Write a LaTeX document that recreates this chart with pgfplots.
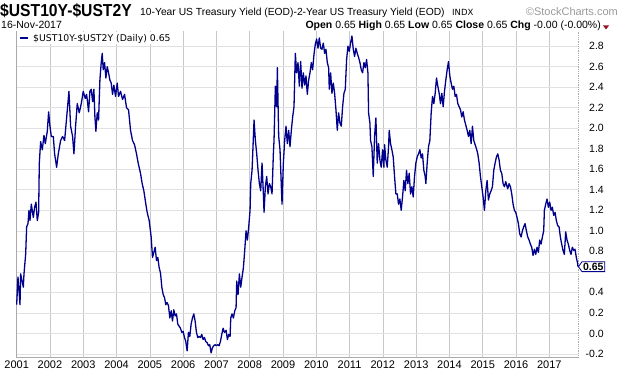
\documentclass[border=0pt]{standalone}
\usepackage{pgfplots}
\pgfplotsset{compat=1.18}
\usepackage{fontspec}
\usepackage{graphicx}
\setmainfont{Liberation Sans}
\newfontfamily\dejavu{DejaVu Sans}
\usetikzlibrary{shapes.symbols}
\definecolor{lineblue}{RGB}{0,0,140}
\definecolor{gridmaj}{RGB}{200,200,200}
\definecolor{gridmin}{RGB}{225,225,225}
\definecolor{axgray}{RGB}{170,170,170}
\definecolor{dred}{RGB}{150,20,40}
\begin{document}
\begin{tikzpicture}
\path[use as bounding box] (0,0) rectangle (620bp,376bp);
\begin{axis}[
  at={(16bp,18.5bp)}, anchor=south west,
  scale only axis, width=562bp, height=326bp,
  xmin=2000.98, xmax=2017.86, ymin=-0.235, ymax=2.943,
  xtick={2001,2002,...,2017}, minor x tick num=1,
  ytick={-0.2,0,0.2,0.4,0.6,0.8,1.0,1.2,1.4,1.6,1.8,2.0,2.2,2.4,2.6,2.8},
  yticklabels={-0.2,0.0,0.2,0.4,,0.8,1.0,1.2,1.4,1.6,1.8,2.0,2.2,2.4,2.6,2.8},
  ytick pos=right, yticklabel pos=right,
  xmajorgrids, xminorgrids, ymajorgrids,
  major x grid style={draw=gridmaj, line width=0.6bp},
  minor x grid style={draw=gridmin, line width=0.6bp},
  major y grid style={draw=gridmin, line width=0.6bp},
  tick style={draw=none},
  axis line style={draw=none},
  clip=false,
  /pgf/number format/assume math mode=true,
  xticklabel style={font=\fontsize{11bp}{12bp}\selectfont, /pgf/number format/1000 sep={}, anchor=north, inner sep=0pt, yshift=-3bp},
  yticklabel style={font=\fontsize{10.5bp}{12bp}\selectfont, anchor=east, inner sep=0pt, xshift=26bp},
]
\draw[axgray, line width=0.8bp] (rel axis cs:0,1) -- (rel axis cs:0,0) -- (rel axis cs:1,0);
\draw[axgray, line width=0.8bp, densely dotted] (rel axis cs:1,0) -- (rel axis cs:1,1);
\addplot[lineblue, line width=1.3bp, line join=round] table {
2001.00 0.28
2001.04 0.55
2001.10 0.28
2001.12 0.58
2001.20 0.45
2001.22 0.58
2001.27 0.77
2001.30 1.04
2001.34 1.07
2001.37 1.20
2001.40 1.10
2001.44 1.26
2001.50 1.13
2001.54 1.23
2001.58 1.28
2001.62 1.10
2001.66 1.18
2001.68 1.66
2001.72 1.87
2001.77 1.79
2001.82 1.93
2001.86 1.85
2001.92 1.97
2001.96 2.16
2002.00 2.02
2002.04 1.92
2002.10 1.92
2002.14 1.75
2002.20 1.62
2002.25 1.75
2002.32 1.88
2002.38 1.92
2002.44 1.88
2002.50 2.10
2002.57 2.36
2002.62 2.02
2002.68 1.92
2002.72 1.75
2002.77 2.02
2002.82 2.24
2002.88 2.15
2002.94 2.24
2003.00 2.36
2003.06 2.29
2003.10 2.33
2003.12 2.28
2003.16 2.16
2003.20 2.36
2003.24 2.38
2003.28 2.26
2003.32 2.38
2003.35 2.11
2003.38 1.97
2003.42 2.15
2003.46 2.08
2003.50 2.47
2003.54 2.64
2003.57 2.73
2003.60 2.57
2003.64 2.64
2003.68 2.49
2003.72 2.60
2003.76 2.54
2003.80 2.47
2003.84 2.44
2003.88 2.33
2003.92 2.42
2003.97 2.31
2004.02 2.44
2004.06 2.31
2004.12 2.36
2004.18 2.28
2004.24 2.33
2004.30 2.20
2004.36 2.18
2004.42 1.98
2004.48 1.88
2004.54 1.84
2004.60 1.75
2004.65 1.66
2004.72 1.56
2004.77 1.46
2004.82 1.39
2004.88 1.26
2004.92 1.18
2004.98 1.10
2005.04 0.94
2005.08 0.74
2005.12 0.79
2005.16 0.84
2005.20 0.71
2005.24 0.74
2005.28 0.64
2005.32 0.59
2005.36 0.45
2005.40 0.38
2005.44 0.35
2005.48 0.28
2005.52 0.30
2005.56 0.27
2005.60 0.15
2005.64 0.22
2005.68 0.12
2005.72 0.23
2005.76 0.17
2005.80 0.19
2005.84 0.09
2005.88 0.07
2005.92 0.05
2005.96 0.01
2006.00 0.02
2006.04 -0.04
2006.08 -0.08
2006.12 -0.17
2006.16 0.01
2006.20 -0.03
2006.24 0.09
2006.28 0.15
2006.32 0.19
2006.36 0.12
2006.40 0.01
2006.44 -0.04
2006.48 -0.03
2006.52 -0.04
2006.56 -0.01
2006.60 -0.06
2006.64 -0.04
2006.68 -0.08
2006.72 -0.09
2006.76 -0.12
2006.80 -0.11
2006.84 -0.19
2006.88 -0.14
2006.92 -0.12
2006.96 -0.11
2007.00 -0.12
2007.04 -0.11
2007.08 -0.12
2007.12 -0.08
2007.16 -0.01
2007.20 0.05
2007.24 0.01
2007.29 0.03
2007.33 -0.06
2007.37 -0.01
2007.41 -0.03
2007.43 0.15
2007.47 0.19
2007.51 0.15
2007.55 0.22
2007.59 0.25
2007.61 0.51
2007.65 0.38
2007.69 0.58
2007.73 0.45
2007.77 0.55
2007.81 0.64
2007.85 0.81
2007.89 1.00
2007.93 0.91
2007.97 1.04
2008.01 1.20
2008.03 1.46
2008.07 1.59
2008.09 1.75
2008.13 2.08
2008.17 1.88
2008.21 1.75
2008.25 1.59
2008.29 1.46
2008.33 1.39
2008.37 1.66
2008.41 1.36
2008.43 1.18
2008.47 1.43
2008.51 1.53
2008.55 1.36
2008.59 1.46
2008.63 1.43
2008.67 1.36
2008.71 1.75
2008.73 1.88
2008.77 2.41
2008.81 2.21
2008.83 2.59
2008.87 1.92
2008.91 1.79
2008.95 1.43
2008.97 1.26
2009.01 1.66
2009.05 1.88
2009.09 2.02
2009.13 1.85
2009.17 1.98
2009.21 1.82
2009.25 1.98
2009.29 2.11
2009.33 2.21
2009.37 2.73
2009.41 2.54
2009.45 2.64
2009.49 2.41
2009.53 2.65
2009.57 2.39
2009.61 2.54
2009.65 2.42
2009.69 2.51
2009.73 2.33
2009.77 2.47
2009.81 2.54
2009.85 2.64
2009.89 2.57
2009.93 2.72
2009.97 2.82
2010.01 2.87
2010.05 2.78
2010.09 2.88
2010.13 2.78
2010.17 2.77
2010.21 2.83
2010.25 2.73
2010.29 2.77
2010.33 2.64
2010.37 2.59
2010.39 2.38
2010.43 2.54
2010.47 2.34
2010.51 2.44
2010.55 2.34
2010.59 2.18
2010.63 1.98
2010.67 2.15
2010.71 2.05
2010.75 2.02
2010.79 2.21
2010.83 2.34
2010.87 2.38
2010.91 2.67
2010.95 2.80
2010.99 2.75
2011.03 2.83
2011.07 2.90
2011.11 2.77
2011.15 2.70
2011.19 2.78
2011.23 2.73
2011.27 2.69
2011.31 2.64
2011.35 2.57
2011.39 2.54
2011.43 2.64
2011.47 2.59
2011.51 2.67
2011.55 2.54
2011.57 2.15
2011.61 2.05
2011.63 1.88
2011.67 1.82
2011.71 1.53
2011.75 1.92
2011.79 2.10
2011.83 1.66
2011.87 1.85
2011.91 1.69
2011.95 1.62
2011.99 1.79
2012.03 1.62
2012.05 1.84
2012.09 1.69
2012.13 1.62
2012.17 1.82
2012.19 1.98
2012.23 1.85
2012.27 1.79
2012.31 1.72
2012.35 1.53
2012.39 1.36
2012.43 1.36
2012.47 1.26
2012.51 1.31
2012.55 1.20
2012.59 1.33
2012.63 1.49
2012.67 1.39
2012.71 1.59
2012.75 1.46
2012.79 1.56
2012.83 1.36
2012.87 1.43
2012.91 1.33
2012.95 1.53
2012.99 1.66
2013.03 1.72
2013.07 1.75
2013.11 1.79
2013.15 1.71
2013.19 1.75
2013.23 1.59
2013.27 1.53
2013.29 1.46
2013.33 1.66
2013.37 1.82
2013.41 1.88
2013.45 2.15
2013.49 2.31
2013.53 2.24
2013.57 2.34
2013.61 2.49
2013.65 2.41
2013.69 2.34
2013.73 2.24
2013.77 2.34
2013.81 2.21
2013.85 2.36
2013.89 2.47
2013.93 2.57
2013.97 2.65
2014.01 2.51
2014.05 2.44
2014.09 2.38
2014.13 2.41
2014.17 2.31
2014.21 2.33
2014.25 2.24
2014.29 2.21
2014.33 2.18
2014.37 2.11
2014.41 2.16
2014.45 2.08
2014.49 2.03
2014.53 1.98
2014.57 1.92
2014.61 1.98
2014.65 1.85
2014.69 2.02
2014.73 1.88
2014.77 1.84
2014.81 1.80
2014.85 1.75
2014.89 1.66
2014.93 1.53
2014.97 1.43
2015.01 1.33
2015.05 1.20
2015.09 1.39
2015.13 1.49
2015.17 1.30
2015.21 1.36
2015.25 1.39
2015.29 1.43
2015.33 1.59
2015.37 1.66
2015.41 1.72
2015.45 1.75
2015.49 1.69
2015.53 1.59
2015.57 1.56
2015.61 1.46
2015.65 1.43
2015.69 1.48
2015.73 1.43
2015.75 1.41
2015.79 1.46
2015.83 1.43
2015.87 1.36
2015.91 1.26
2015.95 1.20
2015.99 1.18
2016.03 1.13
2016.07 1.07
2016.11 0.97
2016.15 0.94
2016.19 1.00
2016.23 1.04
2016.27 1.07
2016.31 1.00
2016.35 0.94
2016.39 0.91
2016.43 0.87
2016.47 0.84
2016.51 0.76
2016.55 0.82
2016.59 0.77
2016.63 0.84
2016.67 0.79
2016.71 0.91
2016.75 0.87
2016.79 0.94
2016.83 1.00
2016.85 1.20
2016.89 1.26
2016.93 1.31
2016.97 1.23
2017.01 1.28
2017.05 1.20
2017.09 1.23
2017.13 1.15
2017.17 1.18
2017.21 1.10
2017.25 1.05
2017.29 1.04
2017.33 0.94
2017.37 0.87
2017.41 0.81
2017.45 0.77
2017.49 0.99
2017.53 0.91
2017.57 0.87
2017.61 0.81
2017.65 0.77
2017.69 0.84
2017.73 0.81
2017.77 0.82
2017.81 0.74
2017.85 0.68
2017.86 0.65
};
\node[signal, signal to=west, signal pointer angle=110, draw=lineblue, fill=white, line width=0.8bp, inner sep=1.2bp, font=\bfseries\fontsize{10.5bp}{12bp}\selectfont, anchor=west] at (axis cs:2017.86,0.65) {0.65};
\end{axis}
% legend (top-left, inside plot)
\fill[white] (17bp,332bp) rectangle (172bp,343.5bp);
\draw[lineblue, line width=2.2bp] (20bp,338bp) -- (28bp,338bp);
\node[anchor=base west, inner sep=0pt, font=\dejavu\fontsize{9.3bp}{11bp}\selectfont] at (33bp,334.5bp) {\$UST10Y-\$UST2Y (Daily) 0.65};
% header
\node[anchor=base west, inner sep=0pt, font=\bfseries\fontsize{16.5bp}{18bp}\selectfont] at (0bp,359bp) {\scalebox{0.95}[1.05]{\$UST10Y-\$UST2Y}};
\node[anchor=base west, inner sep=0pt, font=\fontsize{10.3bp}{12bp}\selectfont] at (140bp,360bp) {10-Year US Treasury Yield (EOD)-2-Year US Treasury Yield (EOD)};
\node[anchor=base west, inner sep=0pt, font=\dejavu\fontsize{8.5bp}{10bp}\selectfont] at (452bp,360bp) {INDX};
\node[anchor=base east, inner sep=0pt, text=gray!80, font=\fontsize{11bp}{12bp}\selectfont] at (618bp,360bp) {\textcopyright StockCharts.com};
\node[anchor=base west, inner sep=0pt, font=\fontsize{10.5bp}{12bp}\selectfont] at (1bp,347bp) {16-Nov-2017};
\node[anchor=base east, inner sep=0pt, font=\fontsize{10.5bp}{12bp}\selectfont] at (601bp,347bp) {\textbf{Open} 0.65 \textbf{High} 0.65 \textbf{Low} 0.65 \textbf{Close} 0.65 \textbf{Chg} -0.00 (-0.00\%)};
\fill[dred] (603bp,350.5bp) -- (609bp,350.5bp) -- (606bp,346.5bp) -- cycle;
\end{tikzpicture}
\end{document}
